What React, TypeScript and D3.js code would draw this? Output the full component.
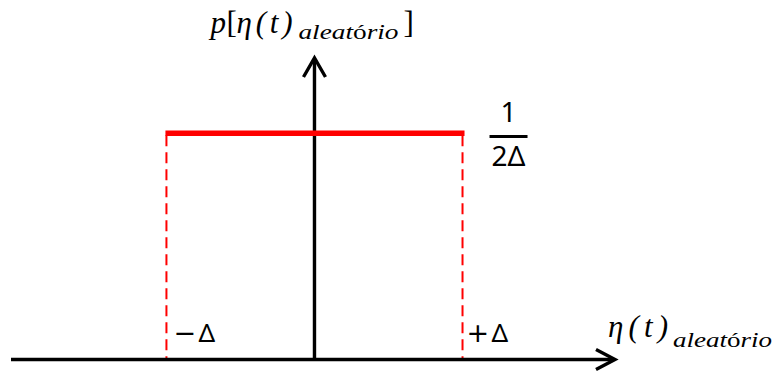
import React from "react";
import * as d3 from "d3";

// Uniform noise density p[η] = 1/(2Δ) on [−Δ, +Δ], zero elsewhere
const xDomain: number[] = [-2.05, 2.03];
const yDomain: number[] = [0, 0.666];
const supportBounds: number[] = [-1, 1];
const densityLevels: number[] = [0.5];
const boundSigns: string[] = ["−", "+"];
const boundSymbol = "Δ";
const fractionParts: string[] = ["1", "2Δ"];
const axisVar: string[] = ["η(t)", "aleat", "ó", "rio"];

const W = 777;
const H = 372;

const mathFont = "'Liberation Serif', 'Times New Roman', serif";
const uprightFont = "'Noto Sans', 'Open Sans', sans-serif";
const signFont = "'DejaVu Sans', sans-serif";

export default function App() {
  const x = d3.scaleLinear().domain(xDomain).range([11, 615]);
  const y = d3.scaleLinear().domain(yDomain).range([359.5, 58]);

  const x0 = x(0);
  const y0 = y(0);
  const xEnd = x(xDomain[1]);
  const yEnd = y(yDomain[1]);
  const level = y(densityLevels[0]);
  const [lo, hi] = supportBounds.map((b) => x(b));

  const hLine = d3.line<[number, number]>();

  const subscript = () => (
    <>
      <tspan>{axisVar[1]}</tspan>
      <tspan fontStyle="normal">{axisVar[2]}</tspan>
      <tspan>{axisVar[3]}</tspan>
    </>
  );

  return (
    <div style={{ position: "absolute", left: 0, top: 0 }}>
      <svg width={W} height={H} viewBox={`0 0 ${W} ${H}`} style={{ display: "block", background: "#fff" }}>
        {/* dashed drops from the density level to the axis */}
        {[lo, hi].map((px, i) => (
          <path
            key={`drop-${i}`}
            d={hLine([[px, level + 2], [px, y0]]) || ""}
            stroke="#ff0000"
            strokeWidth={2}
            strokeDasharray="11,6"
            fill="none"
          />
        ))}

        {/* horizontal axis with open arrowhead */}
        <path d={hLine([[x(xDomain[0]), y0], [xEnd - 2, y0]]) || ""} stroke="#000" strokeWidth={3.4} fill="none" />
        <path
          d={hLine([[xEnd - 19, y0 - 10], [xEnd, y0], [xEnd - 19, y0 + 10]]) || ""}
          stroke="#000"
          strokeWidth={3.4}
          fill="none"
          strokeLinejoin="miter"
        />

        {/* vertical axis with open arrowhead */}
        <path d={hLine([[x0, y0], [x0, yEnd + 2]]) || ""} stroke="#000" strokeWidth={3.4} fill="none" />
        <path
          d={hLine([[x0 - 11, yEnd + 19], [x0, yEnd], [x0 + 11, yEnd + 19]]) || ""}
          stroke="#000"
          strokeWidth={3.4}
          fill="none"
          strokeLinejoin="miter"
        />

        {/* density level */}
        <path d={hLine([[lo - 1, level], [hi + 2, level]]) || ""} stroke="#ff0000" strokeWidth={5.5} fill="none" />

        {/* bound labels −Δ and +Δ */}
        {[lo, hi].map((px, i) => (
          <g key={`bound-${i}`} fill="#000">
            <text x={px + (i === 0 ? 7 : 4)} y={342} fontFamily={signFont} fontSize={27}>
              {boundSigns[i]}
            </text>
            <text x={px + (i === 0 ? 32 : 29)} y={342} fontFamily={uprightFont} fontSize={26}>
              {boundSymbol}
            </text>
          </g>
        ))}

        {/* 1/(2Δ) level label */}
        <text x={hi + 46} y={122} fontFamily={uprightFont} fontSize={28} textAnchor="middle" fill="#000">
          {fractionParts[0]}
        </text>
        <path d={hLine([[hi + 27, 136.5], [hi + 65, 136.5]]) || ""} stroke="#000" strokeWidth={2.8} fill="none" />
        <text x={hi + 46} y={166} fontFamily={uprightFont} fontSize={28} textAnchor="middle" fill="#000">
          {fractionParts[1]}
        </text>

        {/* vertical axis title: p[η(t)_aleatório] */}
        <g fontFamily={mathFont} fontStyle="italic" fill="#000">
          <text x={x0 - 104} y={33} fontSize={31}>p</text>
          <text x={x0 - 88} y={33} fontSize={31} fontStyle="normal">[</text>
          <text x={x0 - 78} y={33} fontSize={31} textLength={56} lengthAdjust="spacing">{axisVar[0]}</text>
          <text x={x0 - 16} y={39} fontSize={21} textLength={100} lengthAdjust="spacingAndGlyphs">
            {subscript()}
          </text>
          <text x={x0 + 89} y={33} fontSize={31} fontStyle="normal">]</text>
        </g>

        {/* horizontal axis title: η(t)_aleatório */}
        <g fontFamily={mathFont} fontStyle="italic" fill="#000">
          <text x={xEnd - 7} y={337} fontSize={31} textLength={60} lengthAdjust="spacing">{axisVar[0]}</text>
          <text x={xEnd + 58} y={347} fontSize={21} textLength={99} lengthAdjust="spacingAndGlyphs">
            {subscript()}
          </text>
        </g>
      </svg>
    </div>
  );
}
